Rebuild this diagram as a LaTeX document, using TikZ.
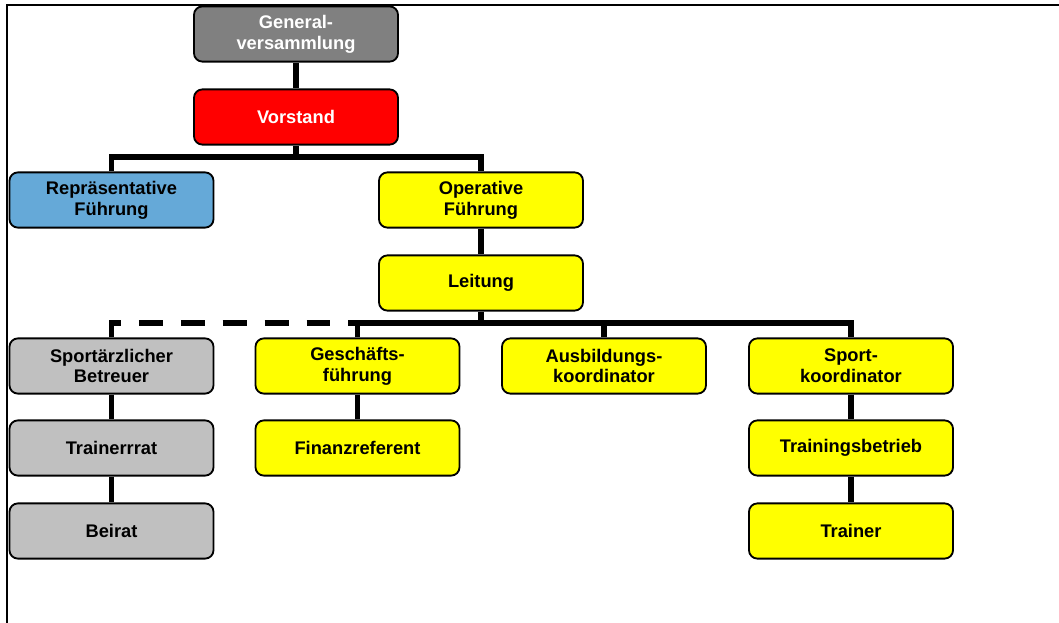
\documentclass[tikz,border=0pt]{standalone}
\usepackage{fontspec}
\setmainfont{Liberation Sans}
\usetikzlibrary{calc}
\definecolor{gvgray}{HTML}{808080}
\definecolor{vsred}{HTML}{FF0000}
\definecolor{repblue}{HTML}{65A9D8}
\definecolor{opyellow}{HTML}{FFFF00}
\definecolor{ltgray}{HTML}{C0C0C0}
\tikzset{
  box/.style={draw=black, line width=1.3pt, rounded corners=6pt, minimum width=5.1cm,
    minimum height=1.38cm, align=center, inner sep=2pt,
    font=\fontsize{13}{14.7}\selectfont\bfseries},
  conn/.style={line width=3.6pt},
  dashconn/.style={line width=3.6pt, dash pattern=on 17pt off 12.8pt}
}

\begin{document}
\begin{tikzpicture}[x=0.025cm, y=-0.025cm]
			\useasboundingbox (0,0) rectangle (1059,623);
			%%%%% FRAME %%%%%
			\draw[line width=1.8pt] (7,623) -- (7,5) -- (1059,5);
			
			%%%%% BOXES %%%%%
			\node[box, fill=gvgray, text=white] (gv) at (296,34) {General-\\versammlung};
			\node[box, fill=vsred, text=white] (vs) at (296,117) {Vorstand};
			
			\node[box, fill=repblue] (rep) at (111.5,200) {Repräsentative\\Führung};
			\node[box, fill=opyellow] (op) at (481,200) {Operative\\Führung};
			\node[box, fill=opyellow] (lt) at (481,283) {Leitung};
			
			\node[box, fill=ltgray] (spa) at (111.5,366) {Sportärzlicher\\Betreuer};
			\node[box, fill=opyellow] (gf) at (357.5,366) {Geschäfts-\\führung};
			\node[box, fill=opyellow] (ab) at (604,366) {Ausbildungs-\\koordinator};
			\node[box, fill=opyellow] (sk) at (851,366) {Sport-\\koordinator};
			
			\node[box, fill=ltgray] (tr) at (111.5,448) {Trainerrrat};
			\node[box, fill=opyellow] (fin) at (357.5,448) {Finanzreferent};
			\node[box, fill=opyellow] (tb) at (851,448) {Trainingsbetrieb};
			
			\node[box, fill=ltgray] (br) at (111.5,531) {Beirat};
			\node[box, fill=opyellow] (trn) at (851,531) {Trainer};
			
			%%%%% LINES %%%%%
			\coordinate (bus1) at (296,157);
			\coordinate (bus2) at (481,323);
			
			\draw[conn] (gv) -- (vs);
			\draw[conn] (vs.south) -- (bus1);
			\draw[conn] (rep.north) |- (bus1) -| (op.north);
			\draw[conn] (op) -- (lt);
			
			\draw[conn] (lt.south) -- (bus2);
			\draw[conn] (gf.north) |- (bus2) -| (sk.north);
			\draw[conn] (ab.north) -- (ab.north |- bus2);
			\draw[dashconn] (spa.north) |- (gf.north |- bus2);
			
			\draw[conn] (spa) -- (tr);
			\draw[conn] (tr) -- (br);
			\draw[conn] (gf) -- (fin);
			\draw[conn] (sk) -- (tb);
			\draw[conn] (tb) -- (trn);
		\end{tikzpicture}
\end{document}
